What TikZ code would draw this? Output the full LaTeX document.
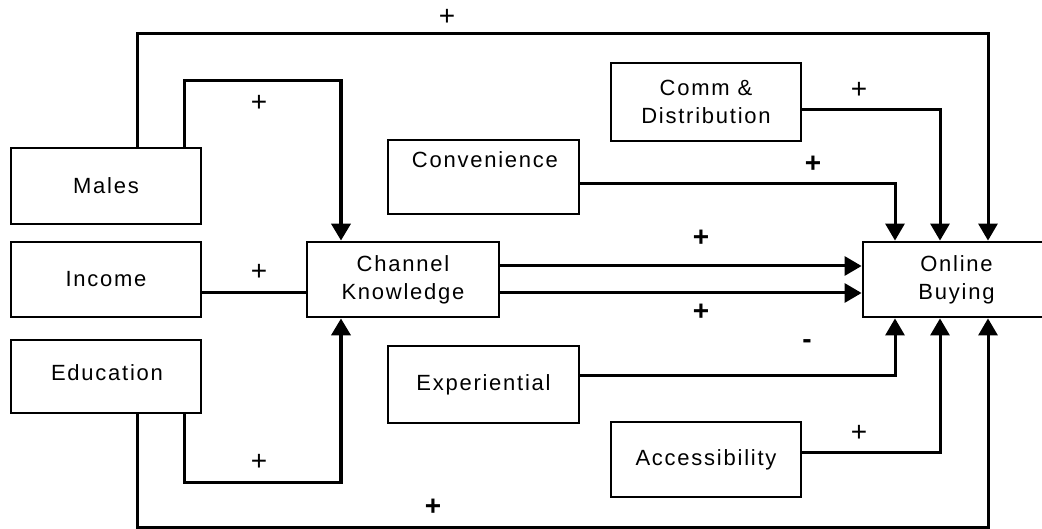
\documentclass[tikz,border=0pt]{standalone}
\usepackage{fontspec}
\setmainfont{Liberation Sans}[LetterSpace=8]
\usetikzlibrary{arrows.meta}
\begin{document}
\begin{tikzpicture}[x=1pt,y=-1pt,
  box/.style={draw,line width=2.8pt,rectangle,inner sep=0pt,align=center,
    font=\fontsize{22pt}{28pt}\selectfont},
  txt/.style={font=\fontsize{22pt}{28pt}\selectfont,inner sep=0pt},
  conn/.style={line width=3pt},
  arr/.style={line width=3pt,-{Triangle[width=19pt,length=17pt]}},
  sign/.style={font=\fontsize{28pt}{28pt}\selectfont,inner sep=0pt},
  bsign/.style={font=\fontsize{28pt}{28pt}\selectfont\bfseries,inner sep=0pt}]
\useasboundingbox (0,0) rectangle (1042,529);
\clip (0,0) rectangle (1042,529);

% factor boxes
\node[box,minimum width=190pt,minimum height=76pt] (males)  at (106,186)   {Males};
\node[box,minimum width=190pt,minimum height=75pt] (income) at (106,279.5) {Income};
\node[box,minimum width=190pt,minimum height=73pt] (edu)    at (106,376.5) {};
\node[txt] (edutext) at (107,373) {Education};
\node[box,minimum width=192pt,minimum height=75pt] (chan)   at (403,279.5) {Channel\\Knowledge};
\node[box,minimum width=191pt,minimum height=74pt] (conv)   at (483.5,177) {};
\node[txt] (convtext) at (485,160) {Convenience};
\node[box,minimum width=190pt,minimum height=78pt] (comm)   at (706,102)   {Comm \&\\Distribution};
\node[box,minimum width=191pt,minimum height=77pt] (exper)  at (483.5,384.5) {Experiential};
\node[box,minimum width=190pt,minimum height=75pt] (access) at (706,459.5) {Accessibility};
\node[box,minimum width=187pt,minimum height=75pt] (online) at (956.5,279.5) {Online\\Buying};

% routing columns and rows
\coordinate (xo) at (137,0);
\coordinate (xi) at (184,0);
\coordinate (xc) at (341,0);
\coordinate (xa) at (895,0);
\coordinate (xb) at (940,0);
\coordinate (xr) at (988,0);
\coordinate (yt) at (0,34);
\coordinate (yi) at (0,81);
\coordinate (ycm) at (0,110);
\coordinate (yv) at (0,184);
\coordinate (yU) at (0,266);
\coordinate (yL) at (0,293);
\coordinate (ye) at (0,376);
\coordinate (ya) at (0,452);
\coordinate (yeb) at (0,482);
\coordinate (yob) at (0,527);

% connectors
\draw[arr] (males.north -| xo) -- (xo |- yt) -- (xr |- yt) -- (online.north -| xr);
\draw[conn] (males.north -| xi) -- (xi |- yi) -- ([xshift=1.9pt]xc |- yi);
\draw[arr,line width=3.8pt] (xc |- yi) -- (chan.north -| xc);
\draw[conn] (income.east |- yL) -- (chan.west |- yL);
\draw[conn] (edu.south -| xi) -- (xi |- yeb) -- ([xshift=1.9pt]xc |- yeb);
\draw[arr,line width=3.8pt] (xc |- yeb) -- (chan.south -| xc);
\draw[arr] (edu.south -| xo) -- (xo |- yob) -- (xr |- yob) -- (online.south -| xr);
\draw[arr] (chan.east |- yU) -- (online.west |- yU);
\draw[arr] (chan.east |- yL) -- (online.west |- yL);
\draw[arr] (conv.east |- yv) -- (xa |- yv) -- (online.north -| xa);
\draw[arr] (comm.east |- ycm) -- (xb |- ycm) -- (online.north -| xb);
\draw[arr] (exper.east |- ye) -- (xa |- ye) -- (online.south -| xa);
\draw[arr] (access.east |- ya) -- (xb |- ya) -- (online.south -| xb);

% signs
\node[sign]  (s1)  at (447,17)  {+};
\node[sign]  (s2)  at (259,103) {+};
\node[sign]  (s3)  at (259,272) {+};
\node[sign]  (s4)  at (859,90)  {+};
\node[bsign] (s5)  at (813,164) {+};
\node[bsign] (s6)  at (701,238) {+};
\node[bsign] (s7)  at (701,312) {+};
\node[bsign] (s8)  at (807,344) {-};
\node[sign]  (s9)  at (859,433) {+};
\node[sign]  (s10) at (259,462) {+};
\node[bsign] (s11) at (433,507) {+};
\end{tikzpicture}
\end{document}
